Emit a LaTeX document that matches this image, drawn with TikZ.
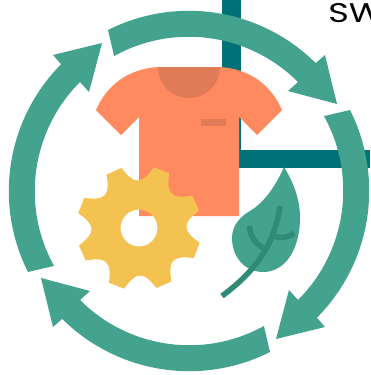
\documentclass[tikz,border=0pt]{standalone}
\usepackage{fontspec}
\setmainfont{Poppins}
\definecolor{arrowgreen}{HTML}{44A38F}
\definecolor{stemgreen}{HTML}{2F8A78}
\definecolor{barteal}{HTML}{007176}
\definecolor{shirtorange}{HTML}{FF8A60}
\definecolor{shirtdark}{HTML}{E07B58}
\definecolor{gearyellow}{HTML}{F3C250}
\tikzset{
  cyclearrow/.style={fill=arrowgreen},
  barline/.style={fill=barteal},
  stemline/.style={draw=stemgreen,line width=5.5pt},
  labeltext/.style={anchor=base west,inner sep=0pt,text=black,xscale=1.3,font=\fontsize{27}{27}\selectfont}
}
\begin{document}
\begin{tikzpicture}[x=1pt,y=-1pt]
\clip (0,0) rectangle (370,375);
\fill[white] (0,0) rectangle (370,375);
% bars
\fill[barline] (222,0) rectangle (241,168);
\fill[barline] (222,150) rectangle (370,168);
% text
\node[labeltext] (sw) at (328,22) {SW};
% cycle arrows
\coordinate (c) at (189,191);
\foreach \r in {0,90,180,270}{
  \begin{scope}[rotate around={\r:(c)}]
    \fill[cyclearrow] (108,30) arc[start angle=243.3,end angle=314.8,radius=180]
      -- (325,55) -- (337,104) -- (288,91) -- (298,82)
      arc[start angle=315,end angle=241.1,radius=154.5] -- cycle;
  \end{scope}
}
% shirt
\fill[shirtorange] (158,67) -- (220,67) .. controls (250,69) and (271,85) .. (282,110)
  -- (257,135) -- (239,117) -- (239,216) -- (139,216) -- (139,117) -- (121,135) -- (96,110)
  .. controls (107,85) and (128,69) .. (158,67) -- cycle;
\fill[shirtdark] (158,67) -- (220,67) arc[start angle=0,end angle=180,radius=31] -- cycle;
\fill[shirtdark] (201,119) rectangle (226,126);
% gear
\begin{scope}[shift={(139,228)},rotate=1.25]
  \fill[gearyellow,even odd rule] (-15:62.5)
    \foreach \a in {0,45,...,315}{
      -- ({\a-15}:62.5) .. controls ({\a-11}:53.5) and ({\a-6.5}:47.6) .. (\a:47.5)
      .. controls ({\a+6.5}:47.6) and ({\a+11}:53.5) .. ({\a+15}:62.5)
    } -- cycle (0,0) circle[radius=18.5];
\end{scope}
% leaf
\fill[arrowgreen] (284,167) .. controls (292,180) and (300,198) .. (300,217)
  .. controls (300,250) and (285,272) .. (263,272)
  .. controls (244,272) and (232,256) .. (232,238)
  .. controls (232,225) and (241,216) .. (250,211)
  .. controls (265,202) and (276,185) .. (284,167) -- cycle;
\draw[stemline] (222,296) .. controls (260,268) and (275,240) .. (280,206);
\draw[stemline] (249.5,226) .. controls (250,236) and (255,243) .. (263,248);
\draw[stemline] (272,235) .. controls (280,239) and (288,238) .. (294,233);
\end{tikzpicture}
\end{document}
